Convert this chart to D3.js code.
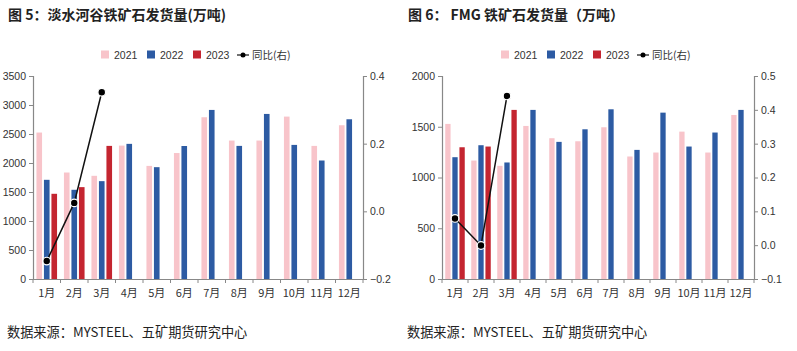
<!DOCTYPE html>
<html>
<head>
<meta charset="utf-8">
<script src="https://cdn.jsdelivr.net/npm/d3@7"></script>
<style>
  body { margin: 0; background: #fff; }
  svg { display: block; }
</style>
</head>
<body>
<div id="main"></div>
<script>
// ---- data ----
const months = ["1月","2月","3月","4月","5月","6月","7月","8月","9月","10月","11月","12月"];
const years = ["2021","2022","2023"];

// 淡水河谷 (Vale)
const vale2021 = [2525, 1836, 1779, 2300, 1950, 2172, 2789, 2387, 2387, 2800, 2295, 2651];
const vale2022 = [1710, 1538, 1687, 2330, 1928, 2293, 2915, 2295, 2846, 2312, 2043, 2754];
const vale2023 = [1469, 1584, 2295];
const valeYoy  = [-0.147, 0.025, 0.352];
const valeLeftTicks  = [0, 500, 1000, 1500, 2000, 2500, 3000, 3500];
const valeRightTicks = [-0.2, 0.0, 0.2, 0.4];

// FMG
const fmg2021 = [1528, 1167, 1115, 1508, 1387, 1357, 1495, 1207, 1246, 1452, 1246, 1616];
const fmg2022 = [1200, 1318, 1148, 1666, 1351, 1475, 1672, 1272, 1639, 1305, 1443, 1666];
const fmg2023 = [1298, 1305, 1666];
const fmgYoy  = [0.079, -0.001, 0.441];
const fmgLeftTicks  = [0, 500, 1000, 1500, 2000];
const fmgRightTicks = [-0.1, 0.0, 0.1, 0.2, 0.3, 0.4, 0.5];

const colors = { "2021": "#f8c4ca", "2022": "#2d5ba3", "2023": "#c42530" };
const tickFont = "'Liberation Sans Narrow', 'Arial Narrow', 'Liberation Sans', sans-serif";
const cjkFont = "'Noto Sans CJK SC', sans-serif";

const svg = d3.select("#main").append("svg").attr("width", 797).attr("height", 351);

//==============================================================================================
function drawChart(opt) {
    const g = svg.append("g");
    const { left, right, top, bottom } = opt;

    // title
    g.append("text")
        .attr("x", opt.ox + 8).attr("y", 20)
        .attr("font-family", cjkFont).attr("font-size", 14).attr("font-weight", "bold")
        .attr("fill", "#222")
        .text(opt.title);

    // source
    g.append("text")
        .attr("x", opt.ox + 7).attr("y", 337)
        .attr("font-family", cjkFont).attr("font-size", 13.2)
        .attr("fill", "#222")
        .text("数据来源：MYSTEEL、五矿期货研究中心");

    const x0 = d3.scaleBand().domain(months).range([left, right]).paddingInner(0.25).paddingOuter(0.125);
    const x1 = d3.scaleBand().domain(years).range([0, x0.bandwidth()]).paddingInner(0.25);
    const xEdge = d3.scaleBand().domain(months).range([left, right]);
    const yL = d3.scaleLinear().domain([0, opt.leftMax]).range([bottom, top]);
    const yR = d3.scaleLinear().domain(opt.rightDomain).range([bottom, top]);

    // bars
    const series = [
        { year: "2021", values: opt.s2021 },
        { year: "2022", values: opt.s2022 },
        { year: "2023", values: opt.s2023 }
    ];
    series.forEach(s => {
        g.append("g").attr("fill", colors[s.year])
            .selectAll("rect")
            .data(s.values.map((v, i) => ({ m: months[i], v: v })))
            .enter().append("rect")
            .attr("x", d => x0(d.m) + x1(s.year))
            .attr("y", d => yL(d.v))
            .attr("width", x1.bandwidth())
            .attr("height", d => yL(0) - yL(d.v));
    });

    // axes
    const axisColor = "#888";
    const leftAxis = g.append("g")
        .attr("transform", `translate(${left},0)`)
        .call(d3.axisLeft(yL).tickValues(opt.leftTicks).tickSize(4).tickPadding(3).tickFormat(d3.format("d")));
    const rightAxis = g.append("g")
        .attr("transform", `translate(${right},0)`)
        .call(d3.axisRight(yR).tickValues(opt.rightTicks).tickSize(4).tickPadding(3).tickFormat(d3.format(".1f")));
    const bottomAxis = g.append("g")
        .attr("transform", `translate(0,${bottom})`)
        .call(d3.axisBottom(xEdge).tickSize(0).tickPadding(10));
    // tick marks at category boundaries
    g.append("g").selectAll("line")
        .data(d3.range(months.length + 1))
        .enter().append("line")
        .attr("x1", i => left + i * xEdge.step())
        .attr("x2", i => left + i * xEdge.step())
        .attr("y1", bottom).attr("y2", bottom + 4)
        .attr("stroke", axisColor);

    [leftAxis, rightAxis].forEach(a => {
        a.select(".domain").attr("stroke", axisColor).attr("stroke-width", 1.2);
        a.selectAll(".tick line").attr("stroke", axisColor);
        a.selectAll("text").attr("font-family", tickFont).attr("font-size", 10.5).attr("fill", "#333");
    });
    bottomAxis.select(".domain").attr("stroke", axisColor).attr("stroke-width", 1.2);
    bottomAxis.selectAll("text").attr("font-family", cjkFont).attr("font-size", 11).attr("fill", "#333");

    // yoy line
    const pts = opt.yoy.map((v, i) => ({ m: months[i], v: v }));
    const line = d3.line().x(d => x0(d.m) + x0.bandwidth() / 2).y(d => yR(d.v));
    g.append("path").datum(pts)
        .attr("d", line).attr("fill", "none").attr("stroke", "#111").attr("stroke-width", 1.5);
    g.append("g").selectAll("circle")
        .data(pts).enter().append("circle")
        .attr("cx", d => x0(d.m) + x0.bandwidth() / 2)
        .attr("cy", d => yR(d.v))
        .attr("r", 3.8)
        .attr("fill", "#000").attr("stroke", "#fff").attr("stroke-width", 1.2);

    // legend
    const lg = g.append("g").attr("transform", `translate(${opt.ox + 101},55)`);
    const legendItems = [
        { key: "2021", x: 0 }, { key: "2022", x: 46 }, { key: "2023", x: 92 }
    ];
    legendItems.forEach(it => {
        lg.append("rect").attr("x", it.x).attr("y", -4.5).attr("width", 8).attr("height", 8).attr("fill", colors[it.key]);
        lg.append("text").attr("x", it.x + 13).attr("y", 0).attr("dy", "0.35em")
            .attr("font-family", tickFont).attr("font-size", 10.5).attr("fill", "#333").text(it.key);
    });
    lg.append("line").attr("x1", 136).attr("x2", 148).attr("y1", 0).attr("y2", 0).attr("stroke", "#111").attr("stroke-width", 1.2);
    lg.append("circle").attr("cx", 142).attr("cy", 0).attr("r", 2.5).attr("fill", "#000");
    lg.append("text").attr("x", 151).attr("y", 0).attr("dy", "0.35em")
        .attr("font-family", cjkFont).attr("font-size", 10.5).attr("fill", "#333").text("同比(右)");
}

drawChart({
    ox: 0, title: "图 5：淡水河谷铁矿石发货量(万吨)",
    left: 33, right: 363, top: 76, bottom: 279,
    leftMax: 3500, rightDomain: [-0.2, 0.4],
    leftTicks: valeLeftTicks, rightTicks: valeRightTicks,
    s2021: vale2021, s2022: vale2022, s2023: vale2023, yoy: valeYoy
});

drawChart({
    ox: 400, title: "图 6： FMG 铁矿石发货量（万吨）",
    left: 442, right: 754, top: 76, bottom: 279,
    leftMax: 2000, rightDomain: [-0.1, 0.5],
    leftTicks: fmgLeftTicks, rightTicks: fmgRightTicks,
    s2021: fmg2021, s2022: fmg2022, s2023: fmg2023, yoy: fmgYoy
});
</script>
</body>
</html>
